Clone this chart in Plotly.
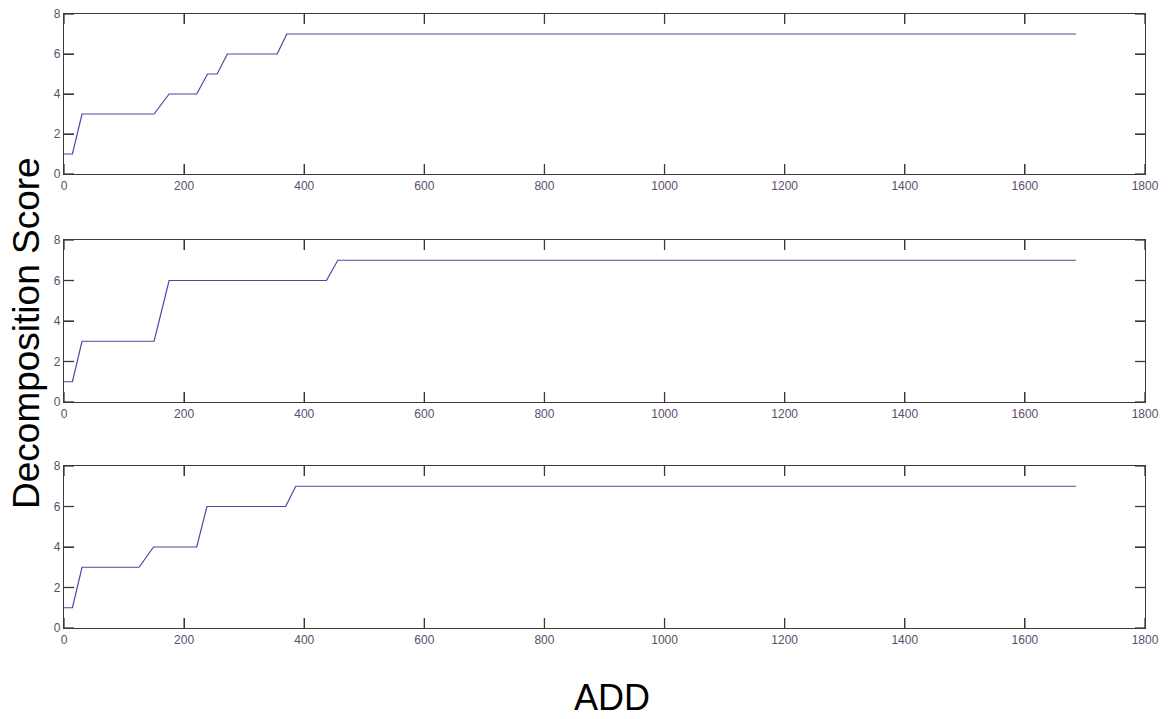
import plotly.graph_objects as go

# Decomposition score vs ADD for three sample series (vertices of each trace)
add_a = [0, 14, 30, 150, 175, 221, 239, 255, 272, 355, 371, 1685]
score_a = [1, 1, 3, 3, 4, 4, 5, 5, 6, 6, 7, 7]

add_b = [0, 14, 30, 150, 175, 437, 456, 1685]
score_b = [1, 1, 3, 3, 6, 6, 7, 7]

add_c = [0, 14, 30, 125, 149, 221, 238, 369, 386, 1685]
score_c = [1, 1, 3, 3, 4, 4, 6, 6, 7, 7]

x_ticks = [0, 200, 400, 600, 800, 1000, 1200, 1400, 1600, 1800]
y_ticks = [0, 2, 4, 6, 8]

W, H = 1171, 719
LINE = "#4848a0"
AX = "#3a3a3a"
TICK_LEN = 10
TICKFONT = dict(family="Liberation Sans, Arial", size=12, color="#5e4c6e")

panels = [(add_a, score_a, 14, 174), (add_b, score_b, 240, 402), (add_c, score_c, 466, 628)]

fig = go.Figure()
fig.update_layout(template="none")
x_left, x_right = 64, 1145
x_dom = [x_left / W, x_right / W]
shapes = []
for i, (xs, ys, top, bot) in enumerate(panels, start=1):
    suf = "" if i == 1 else str(i)
    xa, ya = "x" + suf, "y" + suf
    fig.add_trace(go.Scatter(x=xs, y=ys, mode="lines", line=dict(color=LINE, width=1.2),
                             xaxis=xa, yaxis=ya, showlegend=False))
    common = dict(showline=True, linecolor=AX, linewidth=1.3, mirror="allticks",
                  ticks="inside", ticklen=TICK_LEN, tickcolor=AX,
                  showgrid=False, zeroline=False, automargin=False, tickfont=TICKFONT)
    fig.update_layout(**{
        "xaxis" + suf: dict(domain=x_dom, range=[0, 1800], tickvals=x_ticks,
                            anchor=ya, **common),
        "yaxis" + suf: dict(domain=[1 - bot / H, 1 - top / H], range=[0, 8], tickvals=y_ticks,
                            anchor=xa, **common),
    })
    # inward tick marks on all four box edges, as fractions of the panel size
    fy = TICK_LEN / (bot - top)
    fx = TICK_LEN / (x_right - x_left)
    tick_line = dict(color=AX, width=1.3)
    for xv in x_ticks:
        shapes.append(dict(type="line", layer="above", xref=xa, yref=ya + " domain",
                           x0=xv, x1=xv, y0=0, y1=fy, line=tick_line))
        shapes.append(dict(type="line", layer="above", xref=xa, yref=ya + " domain",
                           x0=xv, x1=xv, y0=1, y1=1 - fy, line=tick_line))
    for yv in y_ticks:
        shapes.append(dict(type="line", layer="above", xref=xa + " domain", yref=ya,
                           x0=0, x1=fx, y0=yv, y1=yv, line=tick_line))
        shapes.append(dict(type="line", layer="above", xref=xa + " domain", yref=ya,
                           x0=1, x1=1 - fx, y0=yv, y1=yv, line=tick_line))

fig.update_layout(shapes=shapes)

fig.add_annotation(text="Decomposition Score", textangle=-90, xref="paper", yref="paper",
                   x=26 / W, y=1 - 333 / H, xanchor="center", yanchor="middle",
                   showarrow=False,
                   font=dict(family="Liberation Sans, Arial", size=37, color="#000000"))
fig.add_annotation(text="ADD", xref="paper", yref="paper", x=612 / W, y=1 - 697 / H,
                   xanchor="center", yanchor="middle", showarrow=False,
                   font=dict(family="Liberation Sans, Arial", size=36, color="#000000"))

fig.update_layout(width=W, height=H, margin=dict(l=0, r=0, t=0, b=0, pad=0),
                  paper_bgcolor="white", plot_bgcolor="white")
fig.write_html("out.html")
